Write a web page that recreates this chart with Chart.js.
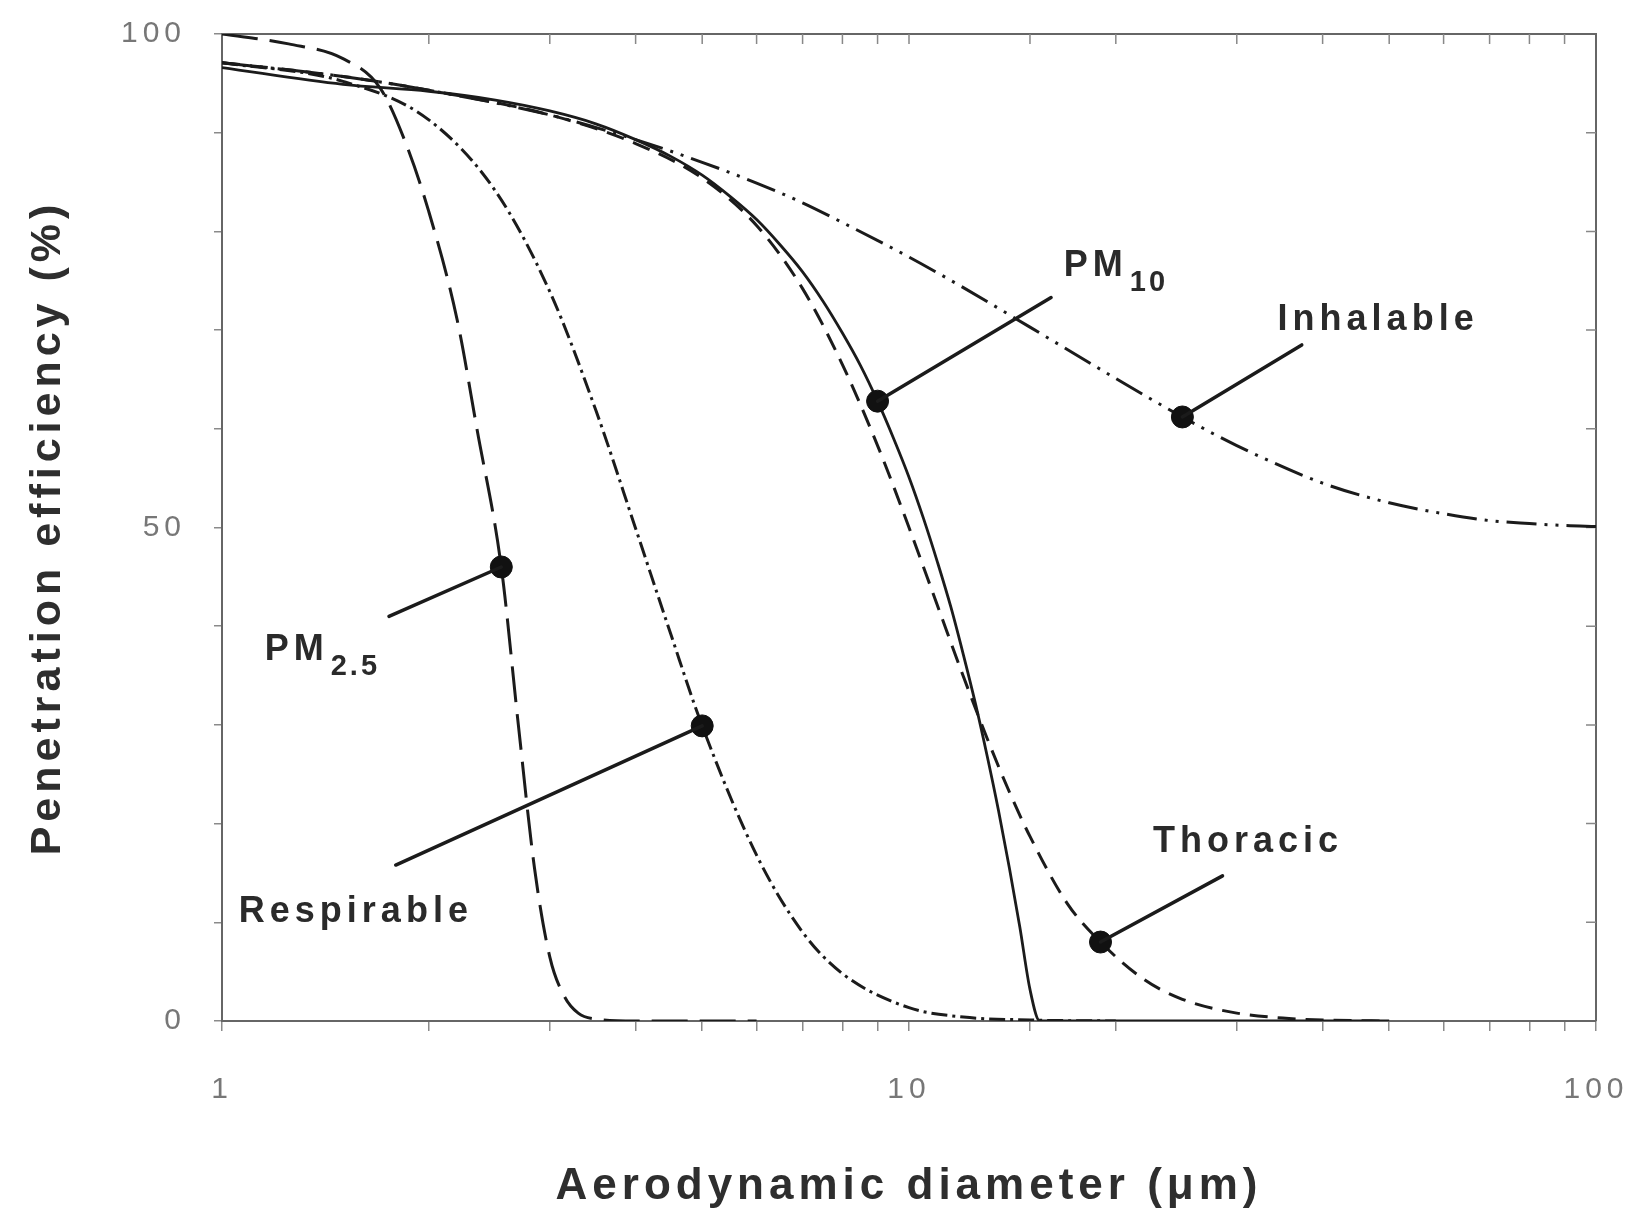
<!DOCTYPE html>
<html>
<head>
<meta charset="utf-8">
<title>Penetration efficiency curves</title>
<script src="https://cdn.jsdelivr.net/npm/chart.js@4.4.1/dist/chart.umd.min.js"></script>
<style>
  html, body { margin: 0; padding: 0; background: #ffffff; }
  #wrap { width: 1639px; height: 1211px; }
</style>
</head>
<body>
<div id="wrap"><canvas id="chart" width="1639" height="1211"></canvas></div>
<script>
// Aerodynamic diameter (µm) and penetration efficiency (%) for each sampling convention
const inhalableDiameter = [1, 1.5, 2, 3, 4, 5, 6, 7, 8, 10, 12, 15, 20, 25, 30, 40, 50, 60, 70, 80, 90, 100];
const inhalableEfficiency = [97.1, 95.7, 94.3, 91.8, 89.3, 87.0, 84.9, 82.9, 80.9, 77.4, 74.3, 70.3, 65.1, 61.2, 58.3, 54.5, 52.5, 51.4, 50.7, 50.4, 50.2, 50.1];

const thoracicDiameter = [1, 1.5, 2, 3, 4, 5, 6, 7, 8, 9, 10, 11, 12, 13, 14, 15, 17, 19, 22, 25, 30, 35, 40, 50];
const thoracicEfficiency = [97.1, 95.7, 94.3, 91.8, 88.9, 85.4, 80.6, 74.2, 66.5, 58.3, 50.0, 42.1, 34.9, 28.6, 23.2, 18.7, 11.9, 8.0, 4.2, 2.2, 0.8, 0.3, 0.1, 0];

const pm10Diameter = [1, 1.5, 2, 2.5, 3, 3.5, 4, 4.5, 5, 5.5, 6, 6.5, 7, 7.5, 8, 8.5, 9, 9.5, 10, 10.5, 11, 11.5, 12, 12.5, 13, 13.5, 14, 14.5, 15, 15.5, 16, 20, 30, 50];
const pm10Efficiency = [96.6, 94.9, 94.2, 93.3, 92.2, 90.9, 89.3, 87.6, 85.7, 83.5, 81.2, 78.6, 75.9, 72.9, 69.7, 66.4, 62.8, 59.0, 55.1, 50.9, 46.5, 42.0, 37.1, 32.1, 26.8, 21.3, 15.5, 9.5, 3.2, 0, 0, 0, 0, 0];

const respirableDiameter = [1, 1.5, 2, 2.5, 3, 3.5, 4, 4.5, 5, 6, 7, 8, 10, 12, 15, 20];
const respirableEfficiency = [97.1, 95.2, 91.3, 84.1, 73.9, 61.9, 49.9, 39.2, 29.9, 16.8, 9.0, 4.8, 1.35, 0.4, 0.1, 0];

const pm25Diameter = [1, 1.25, 1.5, 1.7, 1.85, 2.0, 2.2, 2.35, 2.55, 2.7, 2.85, 3.0, 3.15, 3.3, 3.5, 4, 5, 6];
const pm25Efficiency = [100, 99, 97.5, 94.5, 89, 82, 71, 60, 46, 30, 15.5, 6.5, 2.5, 0.8, 0.2, 0, 0, 0];

// Labelled points on the curves
const markerNames = ['PM', 'Inhalable', 'PM', 'Respirable', 'Thoracic'];
const markerSubscripts = ['10', '', '2.5', '', ''];
const markerDiameter = [9, 25, 2.55, 5, 19];
const markerEfficiency = [62.8, 61.2, 46, 29.9, 8.0];

// Axis tick labels
const xTickLabels = [1, 10, 100];
const yTickLabels = [0, 50, 100];

const toPoints = (xs, ys) => xs.map((x, i) => ({ x, y: ys[i] }));

// Where each leader line ends and where its text sits (data units)
const calloutLayout = [
  { end: [16.1, 73.3], text: [16.8, 76.5] },
  { end: [37.3, 68.5], text: [34.4, 71.0] },
  { end: [1.75, 41.0], text: [1.154, 37.6] },
  { end: [1.79, 15.8], text: [1.058, 11.0] },
  { end: [28.6, 14.7], text: [22.65, 18.1] }
];

const INK = '#1b1b1b';
const LABEL_FONT = 'bold 36px "Liberation Sans", Arial, sans-serif';
const SUB_FONT = 'bold 29px "Liberation Sans", Arial, sans-serif';

const chartFrame = {
  id: 'chartFrame',
  beforeDraw(chart) {
    chart.ctx.letterSpacing = '5px';
  },
  beforeDatasetsDraw(chart) {
    const { ctx, chartArea: a, scales } = chart;
    ctx.save();
    ctx.strokeStyle = '#666';
    ctx.lineWidth = 2;
    ctx.beginPath();
    ctx.moveTo(a.left, a.top);
    ctx.lineTo(a.right, a.top);
    ctx.lineTo(a.right, a.bottom);
    ctx.stroke();
    // inward ticks on the top and right edges, at the library's tick values
    ctx.lineWidth = 1.5;
    ctx.strokeStyle = '#888';
    ctx.beginPath();
    scales.x.ticks.forEach(t => {
      const px = scales.x.getPixelForValue(t.value);
      if (px <= a.left + 1 || px >= a.right - 1) return;
      ctx.moveTo(px, a.top);
      ctx.lineTo(px, a.top + 10);
    });
    scales.y.ticks.forEach(t => {
      const py = scales.y.getPixelForValue(t.value);
      if (py <= a.top + 1 || py >= a.bottom - 1) return;
      ctx.moveTo(a.right, py);
      ctx.lineTo(a.right - 10, py);
    });
    ctx.stroke();
    ctx.restore();
  },
  afterDatasetsDraw(chart) {
    const { ctx, scales } = chart;
    const X = v => scales.x.getPixelForValue(v);
    const Y = v => scales.y.getPixelForValue(v);
    ctx.save();
    ctx.strokeStyle = INK;
    ctx.fillStyle = '#2a2a2a';
    ctx.lineWidth = 3.5;
    ctx.lineCap = 'round';
    calloutLayout.forEach((c, i) => {
      ctx.beginPath();
      ctx.moveTo(X(markerDiameter[i]), Y(markerEfficiency[i]));
      ctx.lineTo(X(c.end[0]), Y(c.end[1]));
      ctx.stroke();
      ctx.letterSpacing = '5px';
      ctx.font = LABEL_FONT;
      ctx.textAlign = 'left';
      ctx.textBaseline = 'middle';
      const tx = X(c.text[0]);
      const ty = Y(c.text[1]);
      ctx.fillText(markerNames[i], tx, ty);
      if (markerSubscripts[i]) {
        const w = ctx.measureText(markerNames[i]).width;
        ctx.font = SUB_FONT;
        ctx.letterSpacing = '3px';
        ctx.fillText(markerSubscripts[i], tx + w + 2, ty + 17);
      }
    });
    ctx.restore();
  },
  afterDraw(chart) {
    chart.ctx.letterSpacing = '0px';
  }
};

const lineStyle = (label, points, dash, width) => ({
  type: 'line',
  label,
  data: points,
  borderColor: INK,
  borderWidth: width,
  borderDash: dash,
  pointRadius: 0,
  fill: false,
  cubicInterpolationMode: 'monotone',
  order: 2
});

new Chart(document.getElementById('chart'), {
  type: 'line',
  data: {
    datasets: [
      lineStyle('Inhalable', toPoints(inhalableDiameter, inhalableEfficiency), [30, 8, 3, 8, 3, 8], 3),
      lineStyle('Thoracic', toPoints(thoracicDiameter, thoracicEfficiency), [18, 10], 3),
      lineStyle('PM10', toPoints(pm10Diameter, pm10Efficiency), [], 2.8),
      lineStyle('Respirable', toPoints(respirableDiameter, respirableEfficiency), [16, 5, 3, 5], 3),
      lineStyle('PM2.5', toPoints(pm25Diameter, pm25Efficiency), [36, 12], 3),
      {
        type: 'scatter',
        label: 'Markers',
        data: toPoints(markerDiameter, markerEfficiency),
        pointRadius: 11,
        pointBackgroundColor: '#111',
        pointBorderColor: '#111',
        showLine: false,
        order: 1
      }
    ]
  },
  options: {
    responsive: false,
    animation: false,
    devicePixelRatio: 1,
    layout: { padding: { top: 34, right: 43, bottom: 0, left: 0 } },
    plugins: {
      legend: { display: false },
      tooltip: { enabled: false }
    },
    scales: {
      x: {
        type: 'logarithmic',
        position: 'bottom',
        min: 1,
        max: 100,
        afterFit(scale) {
          scale.height = 190;
          scale.paddingLeft = 0;
          scale.paddingRight = 0;
        },
        ticks: {
          autoSkip: false,
          maxRotation: 0,
          padding: 41,
          color: '#777',
          font: { family: '"Liberation Sans", Arial, sans-serif', size: 30 },
          callback: v => (xTickLabels.includes(v) ? String(v) : '')
        },
        grid: { display: true, drawOnChartArea: false, drawTicks: true, tickLength: 10, color: '#8a8a8a', lineWidth: 1.5 },
        border: { display: true, color: '#666', width: 2 },
        title: {
          display: true,
          text: 'Aerodynamic diameter (\u03bcm)',
          color: '#2e2e2e',
          font: { family: '"Liberation Sans", Arial, sans-serif', size: 44, weight: 'bold', lineHeight: 1 },
          padding: { top: 0, bottom: 2 }
        }
      },
      y: {
        type: 'linear',
        position: 'left',
        min: 0,
        max: 100,
        afterFit(scale) {
          scale.width = 222;
          scale.paddingTop = 0;
          scale.paddingBottom = 0;
        },
        ticks: {
          stepSize: 10,
          padding: 28,
          color: '#777',
          font: { family: '"Liberation Sans", Arial, sans-serif', size: 30 },
          callback: v => (yTickLabels.includes(v) ? String(v) : '')
        },
        grid: { display: true, drawOnChartArea: false, drawTicks: true, tickLength: 8, color: '#8a8a8a', lineWidth: 1.5 },
        border: { display: true, color: '#666', width: 2 },
        title: {
          display: true,
          text: 'Penetration efficiency (%)',
          color: '#2e2e2e',
          font: { family: '"Liberation Sans", Arial, sans-serif', size: 43, weight: 'bold' },
          padding: { top: 22, bottom: 0 }
        }
      }
    }
  },
  plugins: [chartFrame]
});
</script>
</body>
</html>
